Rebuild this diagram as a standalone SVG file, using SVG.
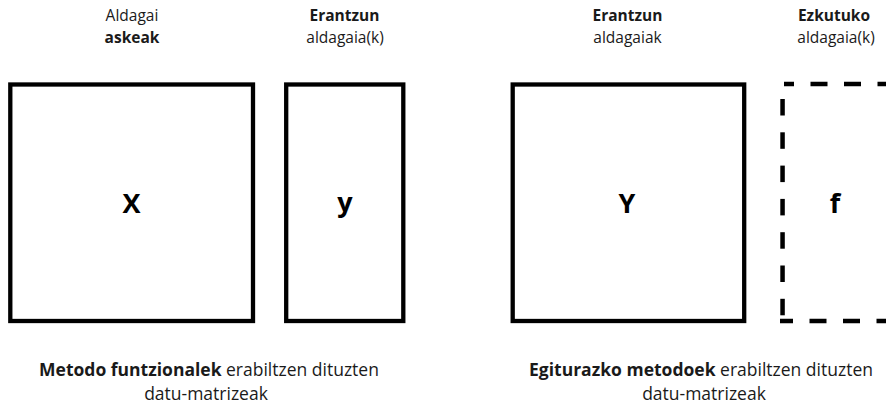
<svg xmlns="http://www.w3.org/2000/svg" width="886" height="411" viewBox="0 0 886 411">
<style>
text{font-family:"Open Sans","Noto Sans","Liberation Sans",sans-serif;fill:#1a1a1a;text-anchor:middle}
.lbl{font-size:15.5px}
.b{font-weight:bold}
.big{font-size:27px;font-weight:bold;fill:#000}
.cap{font-size:17.5px}
.box{fill:#fff;stroke:#000;stroke-width:4.3}
.dash{stroke:#000;stroke-width:4.5;fill:none}
.vd{fill:#000}
</style>
<rect width="886" height="411" fill="#fff"/>
<g id="node-X">
<text class="lbl" x="132" y="20.5">Aldagai</text>
<text class="lbl b" x="132" y="43">askeak</text>
<rect class="box" x="10.3" y="84.5" width="242.7" height="236.5"/>
<text class="big" x="131.5" y="213">X</text>
</g>
<g id="node-y">
<text class="lbl b" x="344.5" y="20.5">Erantzun</text>
<text class="lbl" x="345" y="43">aldagaia(k)</text>
<rect class="box" x="286.2" y="84.5" width="117.1" height="236.5"/>
<text class="big" x="345" y="212">y</text>
</g>
<g id="node-Y">
<text class="lbl b" x="627.5" y="20.5">Erantzun</text>
<text class="lbl" x="627.5" y="43">aldagaiak</text>
<rect class="box" x="512.7" y="84.5" width="231.5" height="236.5"/>
<text class="big" x="627" y="213">Y</text>
</g>
<g id="node-f">
<text class="lbl b" x="834" y="20.5">Ezkutuko</text>
<text class="lbl" x="836" y="43">aldagaia(k)</text>
<path class="dash" d="M784 84H794M810.5 84H827.5M844 84H861M877.5 84H894"/>
<rect class="vd" x="780.3" y="99" width="4.5" height="16.5"/>
<rect class="vd" x="780.3" y="132.3" width="4.5" height="16.5"/>
<rect class="vd" x="780.3" y="165.6" width="4.5" height="16.5"/>
<rect class="vd" x="780.3" y="198.9" width="4.5" height="16.5"/>
<rect class="vd" x="780.3" y="232.2" width="4.5" height="16.5"/>
<rect class="vd" x="780.3" y="265.5" width="4.5" height="16.5"/>
<rect class="vd" x="780.3" y="298.8" width="4.5" height="16.5"/>
<path class="dash" d="M780 321H793M809.5 321H826.5M843 321H860M876.5 321H893.5"/>
<text class="big" x="835" y="213">f</text>
</g>
<g id="caption-left">
<text class="cap" x="209" y="376"><tspan class="b">Metodo funtzionalek</tspan> erabiltzen dituzten</text>
<text class="cap" x="206" y="400">datu-matrizeak</text>
</g>
<g id="caption-right">
<text class="cap" x="701" y="376"><tspan class="b">Egiturazko metodoek</tspan> erabiltzen dituzten</text>
<text class="cap" x="704" y="400">datu-matrizeak</text>
</g>
<g id="connectors"></g>
</svg>
